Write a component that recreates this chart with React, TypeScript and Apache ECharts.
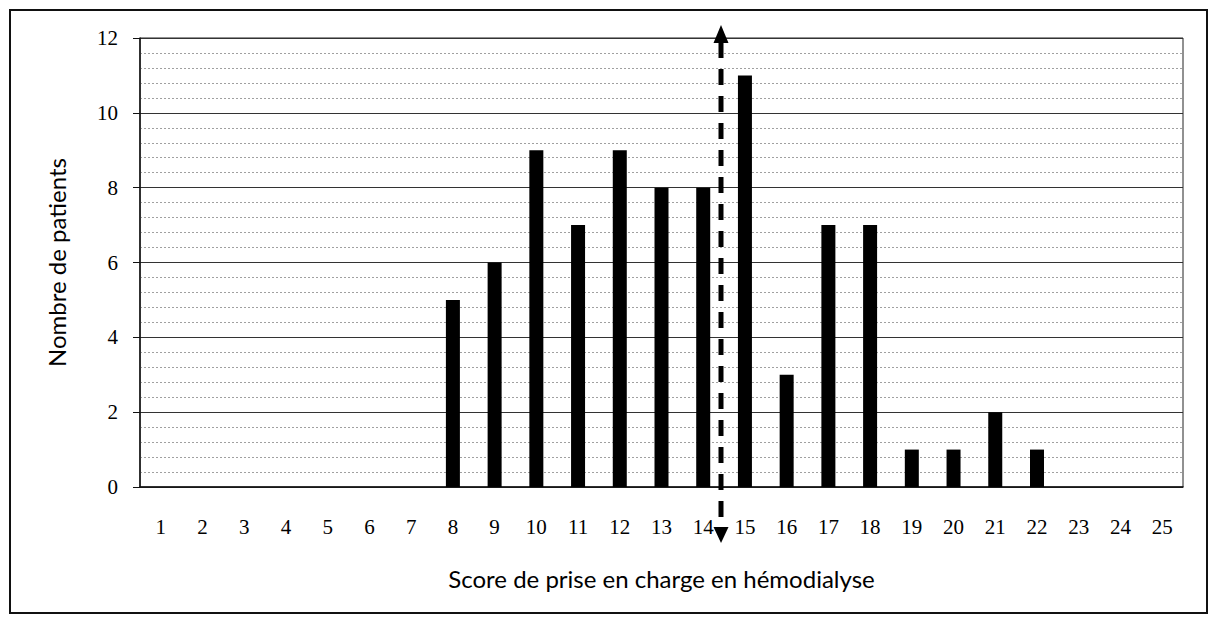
import React, { useEffect, useRef } from "react";
import * as echarts from "echarts";

const scores = Array.from({ length: 25 }, (_, i) => String(i + 1));
const patients = [0, 0, 0, 0, 0, 0, 0, 5, 6, 9, 7, 9, 8, 8, 11, 3, 7, 7, 1, 1, 2, 1, 0, 0, 0];
const yTicks = [0, 2, 4, 6, 8, 10, 12];
const xTitle = "Score de prise en charge en hémodialyse";
const yTitle = "Nombre de patients";

export default function App() {
  const ref = useRef<HTMLDivElement>(null);
  useEffect(() => {
    document.body.style.margin = "0";
    const chart = echarts.init(ref.current!, null, { renderer: "svg" });
    const ax = 721;
    chart.setOption({
      animation: false,
      backgroundColor: "#ffffff",
      grid: {
        left: 140,
        right: 28,
        top: 38,
        bottom: 130,
        show: true,
        borderColor: "#222",
        borderWidth: 1,
        backgroundColor: "transparent",
      },
      xAxis: {
        type: "category",
        data: scores,
        boundaryGap: true,
        axisLine: { lineStyle: { color: "#111", width: 1.5 } },
        axisTick: { show: false },
        axisLabel: {
          fontFamily: "Liberation Serif",
          fontSize: 21,
          color: "#000",
          margin: 29,
        },
        name: xTitle,
        nameLocation: "middle",
        nameGap: 79,
        nameTextStyle: { fontFamily: "Lato", fontSize: 24, color: "#000" },
      },
      yAxis: {
        type: "value",
        min: yTicks[0],
        max: yTicks[yTicks.length - 1],
        interval: 2,
        axisLine: { show: true, lineStyle: { color: "#111", width: 1.5 } },
        axisTick: { show: true, inside: false, length: 7, lineStyle: { color: "#111" } },
        axisLabel: {
          fontFamily: "Liberation Serif",
          fontSize: 21,
          color: "#000",
          margin: 22,
        },
        splitLine: { show: true, lineStyle: { color: "#333", width: 1.2 } },
        minorTick: { show: false, splitNumber: 5 },
        minorSplitLine: { show: true, lineStyle: { color: "#a0a0a0", width: 1, type: [2, 2] } },
        name: yTitle,
        nameLocation: "middle",
        nameGap: 72,
        nameTextStyle: { fontFamily: "Lato", fontSize: 24, color: "#000" },
      },
      series: [
        {
          type: "bar",
          data: patients,
          barWidth: 14,
          itemStyle: { color: "#000" },
        },
      ],
      graphic: [
        {
          type: "rect",
          shape: { x: 10, y: 10, width: 1197, height: 603 },
          style: { fill: "none", stroke: "#111", lineWidth: 2 },
          z: 100,
        },
        {
          type: "line",
          shape: { x1: ax, y1: 40, x2: ax, y2: 530 },
          style: { stroke: "#000", lineWidth: 5, lineDash: [16, 11], lineDashOffset: -2 },
          z: 100,
        },
        {
          type: "polygon",
          shape: { points: [[ax, 25], [ax - 7.5, 43], [ax + 7.5, 43]] },
          style: { fill: "#000" },
          z: 100,
        },
        {
          type: "polygon",
          shape: { points: [[ax, 543], [ax - 7.5, 527], [ax + 7.5, 527]] },
          style: { fill: "#000" },
          z: 100,
        },
      ],
    });
    return () => chart.dispose();
  }, []);
  return <div ref={ref} style={{ width: 1211, height: 617 }} />;
}
